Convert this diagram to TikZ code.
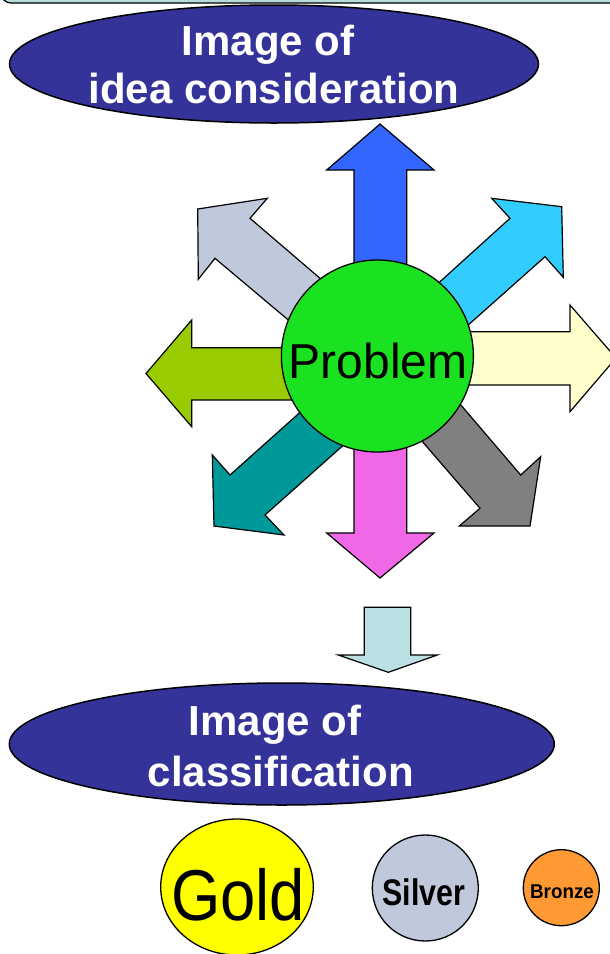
\documentclass[tikz,border=0pt]{standalone}
\usepackage{graphicx}
\usepackage{fontspec}
\setmainfont{Liberation Sans}
\usetikzlibrary{shapes.geometric}
\definecolor{navy}{HTML}{333399}
\definecolor{banner}{HTML}{B8DCDC}
\definecolor{cUp}{HTML}{3366FF}
\definecolor{cUR}{HTML}{33CCFF}
\definecolor{cR}{HTML}{FFFFCC}
\definecolor{cDR}{HTML}{808080}
\definecolor{cD}{HTML}{F068E8}
\definecolor{cDL}{HTML}{009999}
\definecolor{cL}{HTML}{99CC00}
\definecolor{cUL}{HTML}{C0C8DC}
\definecolor{cProb}{HTML}{1AE220}
\definecolor{cPale}{HTML}{BBE0E3}
\definecolor{cGold}{HTML}{FFFF00}
\definecolor{cSilver}{HTML}{C0C8DC}
\definecolor{cBronze}{HTML}{FF9933}
\begin{document}
\begin{tikzpicture}[x=1pt,y=-1pt,
  arr/.style={draw=black, line width=1.2pt, line join=miter},
  bubble/.style={ellipse, draw=black, fill=navy, line width=1.5pt, inner sep=0pt},
  medal/.style={ellipse, draw=black, line width=1.3pt, inner sep=0pt},
  lbl/.style={anchor=base, inner sep=0pt, text=white, font=\fontsize{42}{48}\selectfont\bfseries}]
\useasboundingbox (0,0) rectangle (610,954);
% top banner
\filldraw[fill=banner, draw=black, line width=1.2pt, rounded corners=10pt] (1,-40) rectangle (680,3);
% top ellipse
\node[bubble, minimum width=529pt, minimum height=118pt] (top) at (274,64) {};
\node[lbl] (topA) at (268,55) {Image of};
\node[lbl] (topB) at (274,103) {idea consideration};
% eight arrows
\filldraw[arr, fill=cUp] (354,300) -- (354,170) -- (326.7,170) -- (380,124) -- (434,170) -- (406.7,170) -- (406.7,300) -- cycle;
\filldraw[arr, fill=cD] (354,400) -- (354,533) -- (326.7,533) -- (380,578) -- (434,533) -- (406.7,533) -- (406.7,400) -- cycle;
\filldraw[arr, fill=cL] (330,347.7) -- (191.7,347.7) -- (191.7,320) -- (146,373.5) -- (191.7,426.7) -- (191.7,400) -- (330,400) -- cycle;
\filldraw[arr, fill=cR] (430,331.7) -- (570,331.7) -- (570,305) -- (616,358) -- (570,411.7) -- (570,385) -- (430,385) -- cycle;
\filldraw[arr, fill=cUL] (376,326.3) -- (250,218.3) -- (267.3,198.3) -- (197.7,209) -- (198.3,279.3) -- (215,258.3) -- (332.3,357) -- cycle;
\filldraw[arr, fill=cUR] (384,332.4) -- (510,218.3) -- (491.7,198.3) -- (561.7,206.7) -- (563.3,277.3) -- (545,256.7) -- (423.9,364.4) -- cycle;
\filldraw[arr, fill=cDL] (353,365) -- (230,475) -- (212.3,455) -- (214,526) -- (284,535) -- (265,515) -- (387.7,405.7) -- cycle;
\filldraw[arr, fill=cDR] (426.3,364.6) -- (520.7,475) -- (540.7,456.7) -- (530,526) -- (459.3,526) -- (480,508.3) -- (389.3,403.3) -- cycle;
% problem circle
\node[circle, draw=black, fill=cProb, line width=1.3pt, minimum size=192pt, inner sep=0pt] (prob) at (377.4,356) {};
\node[anchor=base, inner sep=0pt] (probT) at (378.3,378.3) {\fontsize{49}{55}\selectfont\scalebox{0.98}[1]{Problem}};
% small down arrow
\filldraw[arr, fill=cPale] (364.3,607.3) -- (410.7,607.3) -- (410.7,655) -- (437.3,655) -- (388.3,672.3) -- (338.3,655) -- (364.3,655) -- cycle;
% bottom ellipse
\node[bubble, minimum width=545pt, minimum height=122pt] (bot) at (281.8,744) {};
\node[lbl] (botA) at (275,735) {Image of};
\node[lbl] (botB) at (280.8,786.7) {classification};
% medals
\node[medal, fill=cGold, minimum width=152.6pt, minimum height=136pt] (gold) at (237,887) {};
\node[anchor=base, inner sep=0pt] (goldT) at (238,920) {\fontsize{72}{80}\selectfont\scalebox{0.88}[1]{Gold}};
\node[medal, fill=cSilver, minimum width=106pt, minimum height=106pt] (silver) at (425.3,888) {};
\node[anchor=base, inner sep=0pt] (silverT) at (423.7,905) {\fontsize{37}{42}\selectfont\bfseries\scalebox{0.82}[1]{Silver}};
\node[medal, fill=cBronze, minimum width=76pt, minimum height=76pt] (bronze) at (561.3,887.7) {};
\node[anchor=base, inner sep=0pt] (bronzeT) at (562,898.3) {\fontsize{20}{24}\selectfont\bfseries\scalebox{0.94}[1]{Bronze}};
\end{tikzpicture}
\end{document}
